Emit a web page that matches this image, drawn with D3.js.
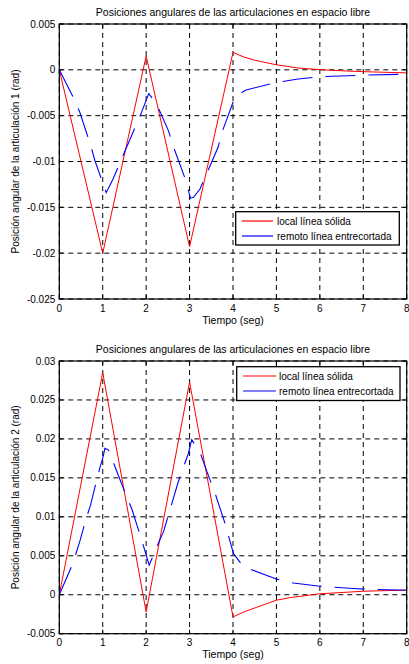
<!DOCTYPE html>
<html><head><meta charset="utf-8">
<script src="https://cdn.jsdelivr.net/npm/d3@7"></script>
<style>body{margin:0;background:#fff}svg{display:block}text{font-family:"Liberation Sans",Arial,sans-serif;fill:#000}</style>
</head><body><svg id="c" width="409" height="664"></svg>
<script>
const titleText = "Posiciones angulares de las articulaciones en espacio libre";
const xLabel = "Tiempo (seg)";
const yLabel1 = "Posición angular de la articulación 1 (rad)";
const yLabel2 = "Posición angular de la articulación 2 (rad)";
const legendLabels = ["local línea sólida", "remoto línea entrecortada"];
const xTicks = [0,1,2,3,4,5,6,7,8];
const yTicks1 = [0.005,0,-0.005,-0.01,-0.015,-0.02,-0.025];
const yTicks2 = [0.03,0.025,0.02,0.015,0.01,0.005,0,-0.005];

// Joint 1
const tLocal1 = [0,1,2,3,4,4.25,4.5,5,5.5,6,6.5,7,7.5,8];
const vLocal1 = [0,-0.020,0.0015,-0.0193,0.0019,0.0014,0.00105,0.00055,0.0002,0.00002,-0.0001,-0.0002,-0.00027,-0.00033];
const tRemote1 = [0,0.32,0.47,0.72,0.82,1.08,1.23,1.78,1.88,2.06,2.24,2.51,2.66,2.9,3.02,3.09,3.24,3.36,3.66,3.74,4.05,4.3,4.97,5.5,6,7,8];
const vRemote1 = [0,-0.003,-0.0046,-0.0082,-0.0099,-0.0134,-0.012,-0.0059,-0.0048,-0.0026,-0.0037,-0.0066,-0.0088,-0.0119,-0.0140,-0.0139,-0.013,-0.0117,-0.0084,-0.0069,-0.0029,-0.0022,-0.0014,-0.001,-0.00075,-0.00058,-0.00047];

// Joint 2
const tLocal2 = [0,1,2,3,4,4.25,4.5,5,5.32,6,7,8];
const vLocal2 = [0,0.0285,-0.0022,0.0273,-0.00285,-0.0022,-0.0017,-0.0007,-0.00036,0.00012,0.00045,0.0006];
const tRemote2 = [0,0.28,0.38,0.48,0.63,0.72,0.82,0.94,1.0,1.05,1.13,1.55,1.67,1.91,2.0,2.07,2.28,2.4,2.74,2.86,2.97,3.05,3.24,3.4,3.6,3.82,4.01,4.24,5.01,5.39,6,6.77,7.12,8];
const vRemote2 = [0,0.0036,0.0052,0.007,0.01,0.0115,0.0138,0.0164,0.0175,0.0188,0.0186,0.0126,0.011,0.0068,0.0051,0.0038,0.0066,0.0081,0.0145,0.0164,0.0181,0.0199,0.0183,0.0158,0.0128,0.0091,0.0053,0.0036,0.002,0.0015,0.0011,0.0008,0.0007,0.00058];

const svg = d3.select("#c");

function fmt(v){ return String(+v.toFixed(4)); }

function panel(cfg){
  const g = svg.append("g");
  const x = d3.scaleLinear().domain([0,8]).range([cfg.left, cfg.right]);
  const y = d3.scaleLinear().domain(cfg.ydom).range([cfg.bottom, cfg.top]);
  const grid = g.append("g").attr("stroke","#000").attr("stroke-width",1).attr("stroke-dasharray","5,4").attr("fill","none");
  xTicks.forEach(t => grid.append("line").attr("x1",x(t)).attr("x2",x(t)).attr("y1",cfg.top).attr("y2",cfg.bottom));
  cfg.yticks.forEach(t => grid.append("line").attr("y1",y(t)).attr("y2",y(t)).attr("x1",cfg.left).attr("x2",cfg.right));
  const tk = g.append("g").attr("stroke","#000").attr("stroke-width",1);
  xTicks.forEach(t => { tk.append("line").attr("x1",x(t)).attr("x2",x(t)).attr("y1",cfg.bottom).attr("y2",cfg.bottom-4);
                        tk.append("line").attr("x1",x(t)).attr("x2",x(t)).attr("y1",cfg.top).attr("y2",cfg.top+4); });
  cfg.yticks.forEach(t => { tk.append("line").attr("y1",y(t)).attr("y2",y(t)).attr("x1",cfg.left).attr("x2",cfg.left+4);
                            tk.append("line").attr("y1",y(t)).attr("y2",y(t)).attr("x1",cfg.right).attr("x2",cfg.right-4); });
  const line = d3.line().x(d=>x(d[0])).y(d=>y(d[1]));
  const local = cfg.tl.map((t,i)=>[t,cfg.vl[i]]);
  const remote = cfg.tr.map((t,i)=>[t,cfg.vr[i]]);
  g.append("path").datum(local).attr("d",line).attr("fill","none").attr("stroke","#ff0000").attr("stroke-width",1);
  g.append("path").datum(remote).attr("d",line).attr("fill","none").attr("stroke","#0000ff").attr("stroke-width",1.1).attr("stroke-dasharray","30,13");
  g.append("rect").attr("x",cfg.left).attr("y",cfg.top).attr("width",cfg.right-cfg.left).attr("height",cfg.bottom-cfg.top)
    .attr("fill","none").attr("stroke","#000").attr("stroke-width",1.2);
  xTicks.forEach(t => g.append("text").attr("x",x(t)).attr("y",cfg.bottom+12.5).attr("text-anchor","middle").attr("font-size",10).text(t));
  cfg.yticks.forEach(t => g.append("text").attr("x",cfg.left-4).attr("y",y(t)+3.5).attr("text-anchor","end").attr("font-size",10).text(fmt(t)));
  g.append("text").attr("x",(cfg.left+cfg.right)/2).attr("y",cfg.top-8.5).attr("text-anchor","middle").attr("font-size",10.5).text(titleText);
  g.append("text").attr("x",(cfg.left+cfg.right)/2).attr("y",cfg.bottom+24.5).attr("text-anchor","middle").attr("font-size",10.5).text(xLabel);
  g.append("text").attr("transform",`translate(${19},${(cfg.top+cfg.bottom)/2}) rotate(-90)`).attr("text-anchor","middle").attr("font-size",10).text(cfg.ylabel);
  const L = cfg.leg;
  g.append("rect").attr("x",L.x0).attr("y",L.y0).attr("width",L.x1-L.x0).attr("height",L.y1-L.y0).attr("fill","#fff").attr("stroke","#000").attr("stroke-width",1.3);
  const cols = ["#ff0000","#0000ff"];
  legendLabels.forEach((lab,i)=>{
    const yy = L.rows[i];
    g.append("line").attr("x1",L.lx0).attr("x2",L.lx1).attr("y1",yy).attr("y2",yy).attr("stroke",cols[i]).attr("stroke-width",1.2);
    g.append("text").attr("x",L.tx).attr("y",yy+3.5).attr("font-size",10).text(lab);
  });
}

panel({left:59.3,right:406.7,top:24,bottom:299,ydom:[-0.025,0.005],yticks:yTicks1,ylabel:yLabel1,
  tl:tLocal1,vl:vLocal1,tr:tRemote1,vr:vRemote1,
  leg:{x0:235.7,x1:399.3,y0:211.7,y1:245,rows:[221,236],lx0:242,lx1:273,tx:277}});
panel({left:59.3,right:406.7,top:361,bottom:633.7,ydom:[-0.005,0.03],yticks:yTicks2,ylabel:yLabel2,
  tl:tLocal2,vl:vLocal2,tr:tRemote2,vr:vRemote2,
  leg:{x0:236.7,x1:400,y0:366.7,y1:400.5,rows:[376,391],lx0:243,lx1:276,tx:279}});
</script></body></html>
